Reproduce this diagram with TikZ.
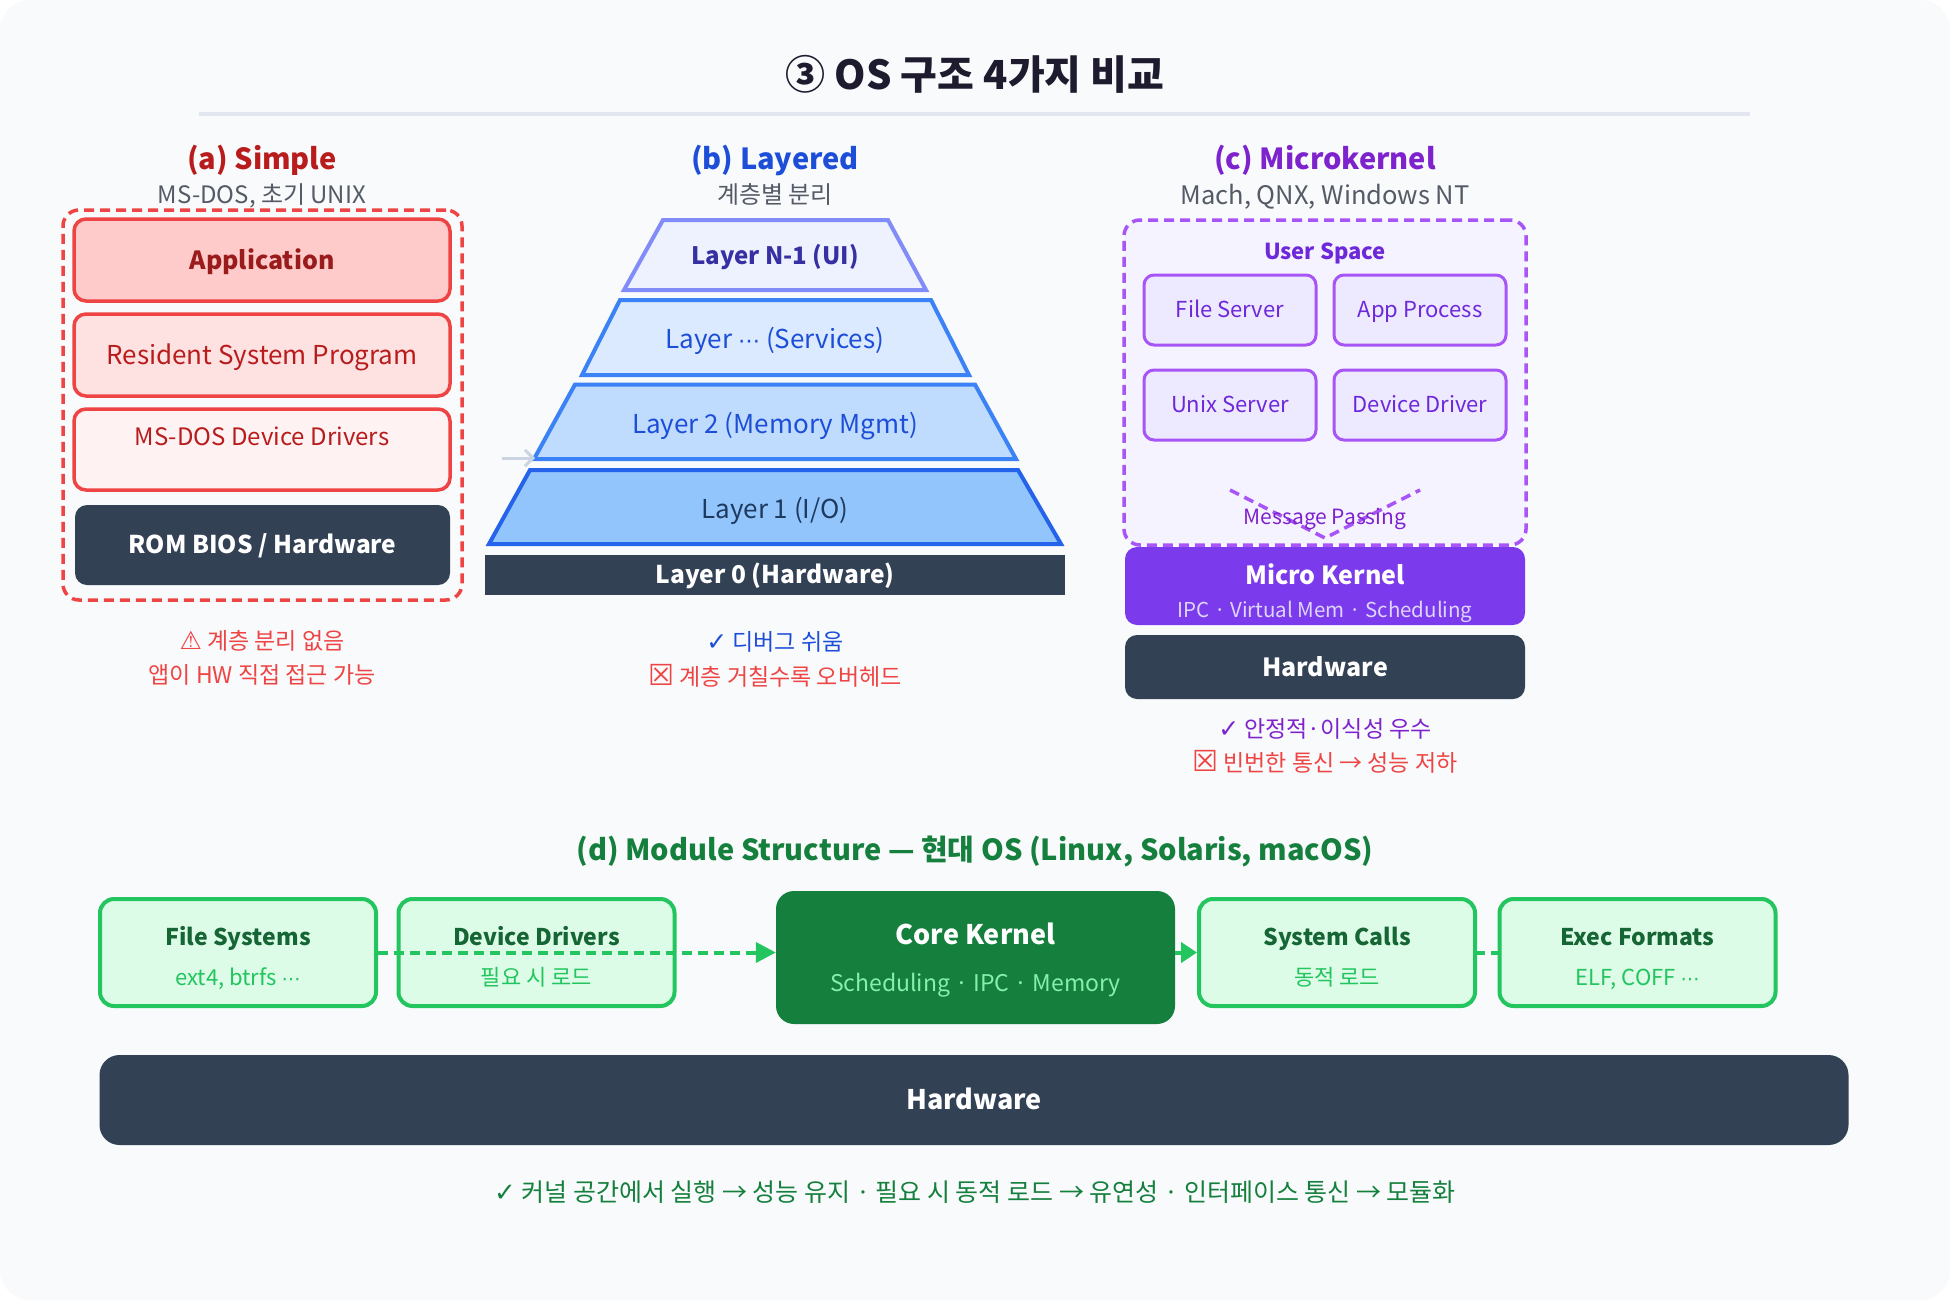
\documentclass[tikz,border=0pt]{standalone}
\usepackage{fontspec}
\setmainfont{Noto Sans CJK KR}
\newfontfamily\symfont{DejaVu Sans}
\usetikzlibrary{arrows.meta}
\definecolor{paper}{HTML}{F8FAFC}
\definecolor{rulegray}{HTML}{E2E6EF}
\definecolor{ink}{HTML}{1E1B2E}
\definecolor{muted}{HTML}{555B66}
\definecolor{slate}{HTML}{334155}
\definecolor{redL}{HTML}{EF4444}
\definecolor{redD}{HTML}{B91C1C}
\definecolor{redX}{HTML}{991B1B}
\definecolor{redA}{HTML}{FECACA}
\definecolor{redB}{HTML}{FEE2E2}
\definecolor{redC}{HTML}{FEF2F2}
\definecolor{blueT}{HTML}{1D4ED8}
\definecolor{blueL}{HTML}{3B82F6}
\definecolor{blueM}{HTML}{2563EB}
\definecolor{blueA}{HTML}{DBEAFE}
\definecolor{blueB}{HTML}{BFDBFE}
\definecolor{blueC}{HTML}{93C5FD}
\definecolor{navy}{HTML}{1E3A5F}
\definecolor{indigoL}{HTML}{818CF8}
\definecolor{indigoD}{HTML}{3730A3}
\definecolor{indigoF}{HTML}{EEF2FF}
\definecolor{greyA}{HTML}{CBD5E1}
\definecolor{purpT}{HTML}{7E22CE}
\definecolor{purpD}{HTML}{6D28D9}
\definecolor{purpL}{HTML}{A855F7}
\definecolor{purpK}{HTML}{7C3AED}
\definecolor{purpF}{HTML}{F5F3FF}
\definecolor{purpB}{HTML}{EDE9FE}
\definecolor{purpS}{HTML}{DDD6FE}
\definecolor{greenT}{HTML}{15803D}
\definecolor{greenD}{HTML}{166534}
\definecolor{greenL}{HTML}{22C55E}
\definecolor{greenF}{HTML}{DCFCE7}
\definecolor{greenK}{HTML}{86EFAC}
\newcommand\fsz[1]{\fontsize{#1}{#1}\selectfont}
\newcommand\bigsym[2]{{\symfont\fsz{#1}#2}}
\begin{document}
\begin{tikzpicture}[x=1pt,y=-1pt,
  sz/.style={font=\fsz{#1},text height=0.84*#1pt,text depth=0.12*#1pt},
  szb/.style={font=\fsz{#1}\bfseries,text height=0.84*#1pt,text depth=0.12*#1pt},
  txt/.style={inner sep=0pt},
  ttl/.style={txt,szb=29},
  sub/.style={txt,sz=24,text=muted},
  note/.style={txt,sz=23},
  frame/.style={line width=3.5pt,dash pattern=on 10pt off 6pt,rounded corners=16pt},
  layerA/.style={draw=redL,line width=3.5pt,rounded corners=12pt,minimum width=376pt,minimum height=82pt},
  hw/.style={fill=slate,rounded corners=12pt,text=white,szb=25},
  trap/.style={line width=4pt,line join=miter},
  ubox/.style={draw=purpL,fill=purpB,line width=3pt,rounded corners=10pt,minimum width=172pt,minimum height=70pt,text=purpD,sz=22},
  mod/.style={draw=greenL,fill=greenF,line width=4pt,rounded corners=14pt,minimum width=276pt,minimum height=107pt},
  modT/.style={txt,szb=23,text=greenD},
  modS/.style={txt,sz=22,text=greenL}]
\useasboundingbox (0,0) rectangle (1950,1300);
\fill[white] (0,0) rectangle (1950,1300);
\fill[paper,rounded corners=30pt] (0,0) rectangle (1950,1300);

\node[txt,szb=40,text=ink] (title) at (975,75) {③ OS 구조 4가지 비교};
\draw[rulegray,line width=4pt] (199,114) -- (1750,114);

\node[ttl,text=redD] (aT) at (262,159) {(a) Simple};
\node[sub] (aS) at (262,195) {MS-DOS, 초기 UNIX};
\node[frame,draw=redL,minimum width=399pt,minimum height=390pt] (aBox) at (262.5,405) {};
\node[layerA,fill=redA,text=redX,szb=25] (app) at (262,260) {Application};
\node[layerA,fill=redB,text=redD,sz=26] (rsp) at (262,355) {Resident System Program};
\node[layerA,fill=redC,minimum height=81pt] (drv) at (262,449.5) {};
\node[txt,text=redD,sz=24] (drvT) at (262,437) {MS-DOS Device Drivers};
\node[hw,minimum width=375pt,minimum height=80pt,szb=24.5] (rom) at (262.5,545) {ROM BIOS / Hardware};
\node[note,text=redL] (aN1) at (262,641) {\bigsym{25}{⚠} 계층 분리 없음};
\node[note,text=redL] (aN2) at (262,675) {앱이 HW 직접 접근 가능};

\node[ttl,text=blueT] (bT) at (775,159) {(b) Layered};
\node[sub] (bS) at (775,195) {계층별 분리};
\draw[trap,draw=indigoL,fill=indigoF] (663,220) -- (888,220) -- (926,290) -- (624,290) -- cycle;
\draw[trap,draw=blueL,fill=blueA] (620,300) -- (931,300) -- (969,375) -- (582,375) -- cycle;
\draw[trap,draw=blueL,fill=blueB] (575,384.5) -- (975,384.5) -- (1016,459) -- (534,459) -- cycle;
\draw[trap,draw=blueM,fill=blueC] (530,470) -- (1018,470) -- (1061,544) -- (489,544) -- cycle;
\node[txt,szb=24,text=indigoD] (l4) at (775,256) {Layer N-1 (UI)};
\node[txt,sz=26,text=blueT] (l3) at (775,339) {Layer {\symfont\fsz{22}⋯} (Services)};
\node[txt,sz=26,text=blueT] (l2) at (775,424) {Layer 2 (Memory Mgmt)};
\node[txt,sz=26,text=navy] (l1) at (775,509) {Layer 1 (I/O)};
\node[fill=slate,minimum width=580pt,minimum height=40pt,text=white,szb=24.5] (l0) at (775,575) {Layer 0 (Hardware)};
\coordinate (gIn) at (502,458);
\coordinate (gTip) at (535,458);
\draw[greyA,line width=3pt,-{Straight Barb[length=8pt,width=16pt]}] (gIn) -- (gTip);
\node[note,text=blueT] (bN1) at (775,642) {\bigsym{25}{✓} 디버그 쉬움};
\node[note,text=redL] (bN2) at (775,677) {\bigsym{29}{☒} 계층 거칠수록 오버헤드};

\node[ttl,text=purpT] (cT) at (1325,159) {(c) Microkernel};
\node[sub,sz=25.5] (cS) at (1325,195) {Mach, QNX, Windows NT};
\node[frame,draw=purpL,fill=purpF,minimum width=402pt,minimum height=325pt] (user) at (1325,382.5) {};
\node[txt,szb=22,text=purpD] (uT) at (1325,252) {User Space};
\node[ubox] (fsrv) at (1230,310) {File Server};
\node[ubox] (appP) at (1420,310) {App Process};
\node[ubox] (unix) at (1230,405) {Unix Server};
\node[ubox] (ddrv) at (1420,405) {Device Driver};
\coordinate (mpL) at (1230,490);
\coordinate (mpC) at (1325,538);
\coordinate (mpR) at (1420,490);
\draw[purpL,line width=3.5pt,dash pattern=on 10pt off 6pt] (mpL) -- (mpC) -- (mpR);
\node[txt,sz=21,text=purpT] (mpT) at (1325,517) {Message Passing};
\node[fill=purpK,rounded corners=12pt,minimum width=400pt,minimum height=78pt] (mk) at (1325,586) {};
\node[txt,szb=25,text=white] (mkT) at (1325,575) {Micro Kernel};
\node[txt,sz=20.5,text=purpS] (mkS) at (1325,610) {IPC · Virtual Mem · Scheduling};
\node[hw,minimum width=400pt,minimum height=64pt] (hwC) at (1325,667) {Hardware};
\node[note,text=purpT] (cN1) at (1325,729) {\bigsym{25}{✓} 안정적·이식성 우수};
\node[note,text=redL] (cN2) at (1325,763) {\bigsym{29}{☒} 빈번한 통신 → 성능 저하};

\node[txt,szb=29,text=greenT] (dT) at (975,850) {(d) Module Structure — 현대 OS (Linux, Solaris, macOS)};
\node[mod] (fs) at (238,952.5) {};
\node[mod] (dd) at (536.5,952.5) {};
\node[fill=greenT,rounded corners=18pt,minimum width=399pt,minimum height=133pt] (core) at (975.5,957.5) {};
\node[mod] (sc) at (1337,952.5) {};
\node[mod] (ef) at (1637.5,952.5) {};
\node[modT] (fsT) at (238,937) {File Systems};
\node[modS] (fsS) at (238,978) {ext4, btrfs {\symfont\fsz{19}⋯}};
\node[modT] (ddT) at (536.5,937) {Device Drivers};
\node[modS] (ddS) at (536.5,978) {필요 시 로드};
\node[txt,szb=27,text=white] (coreT) at (975.5,935) {Core Kernel};
\node[txt,sz=23,text=greenK] (coreS) at (975.5,983) {Scheduling · IPC · Memory};
\node[modT] (scT) at (1337,937) {System Calls};
\node[modS] (scS) at (1337,978) {동적 로드};
\node[modT] (efT) at (1637.5,937) {Exec Formats};
\node[modS] (efS) at (1637.5,978) {ELF, COFF {\symfont\fsz{19}⋯}};
\draw[greenL,line width=4pt,dash pattern=on 10pt off 6pt,-{Triangle[length=20pt,width=20pt]}] (fs.east) -- (fs.east -| core.west);
\draw[greenL,line width=4pt,-{Triangle[length=16pt,width=20pt]}] (sc.west -| core.east) -- (sc.west);
\draw[greenL,line width=4pt,dash pattern=on 8pt off 6pt] (sc.east) -- (ef.west);
\node[hw,rounded corners=20pt,minimum width=1749pt,minimum height=90pt,szb=27] (hwD) at (974,1100) {Hardware};
\node[txt,sz=25,text=greenT] (dN) at (975,1192) {\bigsym{26}{✓} 커널 공간에서 실행 → 성능 유지 · 필요 시 동적 로드 → 유연성 · 인터페이스 통신 → 모듈화};
\end{tikzpicture}
\end{document}
